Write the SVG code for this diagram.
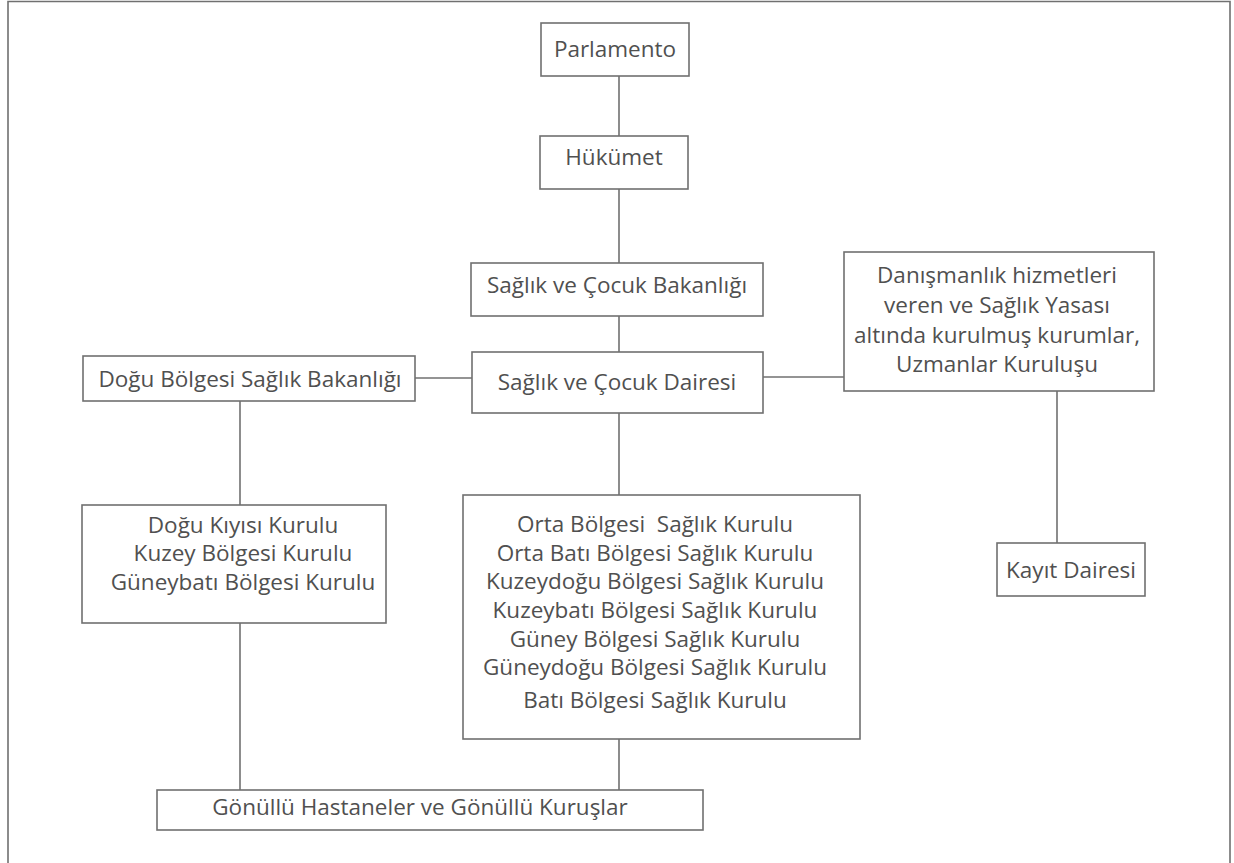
<svg xmlns="http://www.w3.org/2000/svg" width="1234" height="863" viewBox="0 0 1234 863">
<style>
.box{fill:#fff;stroke:#707070;stroke-width:1.6}
.ln{stroke:#707070;stroke-width:1.6;fill:none}
text{font-family:"Open Sans","Noto Sans",sans-serif;font-size:22.5px;fill:#505050;text-anchor:middle}
</style>
<rect x="0" y="0" width="1234" height="863" fill="#fff"/>
<g id="frame"><path class="ln" d="M8,870 V1.5 H1230 V870"/></g>
<g id="connectors">
<line class="ln" x1="619" y1="76" x2="619" y2="136"/>
<line class="ln" x1="619" y1="189" x2="619" y2="263"/>
<line class="ln" x1="619" y1="316" x2="619" y2="352"/>
<line class="ln" x1="415" y1="378" x2="472" y2="378"/>
<line class="ln" x1="763" y1="377" x2="844" y2="377"/>
<line class="ln" x1="240" y1="401" x2="240" y2="505"/>
<line class="ln" x1="240" y1="623" x2="240" y2="790"/>
<line class="ln" x1="619" y1="413" x2="619" y2="495"/>
<line class="ln" x1="619" y1="739" x2="619" y2="790"/>
<line class="ln" x1="1057" y1="391" x2="1057" y2="543"/>
</g>
<g id="parlamento"><rect class="box" x="541" y="23" width="148" height="53"/><text x="615" y="57">Parlamento</text></g>
<g id="hukumet"><rect class="box" x="540" y="136" width="148" height="53"/><text x="614" y="165">Hükümet</text></g>
<g id="bakanlik"><rect class="box" x="471" y="263" width="292" height="53"/><text x="617" y="293">Sağlık ve Çocuk Bakanlığı</text></g>
<g id="daire"><rect class="box" x="472" y="352" width="291" height="61"/><text x="617" y="390">Sağlık ve Çocuk Dairesi</text></g>
<g id="dogu-bakanlik"><rect class="box" x="83" y="356" width="332" height="45"/><text x="250" y="387">Doğu Bölgesi Sağlık Bakanlığı</text></g>
<g id="danismanlik"><rect class="box" x="844" y="252" width="310" height="139"/>
<text x="997" y="283">Danışmanlık hizmetleri</text>
<text x="997" y="313">veren ve Sağlık Yasası</text>
<text x="997" y="343">altında kurulmuş kurumlar,</text>
<text x="997" y="372">Uzmanlar Kuruluşu</text></g>
<g id="dogu-kurullar"><rect class="box" x="82" y="505" width="304" height="118"/>
<text x="243" y="533">Doğu Kıyısı Kurulu</text>
<text x="243" y="561">Kuzey Bölgesi Kurulu</text>
<text x="243" y="590">Güneybatı Bölgesi Kurulu</text></g>
<g id="bolge-kurullar"><rect class="box" x="463" y="495" width="397" height="244"/>
<text x="655" y="532" xml:space="preserve">Orta Bölgesi  Sağlık Kurulu</text>
<text x="655" y="561">Orta Batı Bölgesi Sağlık Kurulu</text>
<text x="655" y="589">Kuzeydoğu Bölgesi Sağlık Kurulu</text>
<text x="655" y="618">Kuzeybatı Bölgesi Sağlık Kurulu</text>
<text x="655" y="647">Güney Bölgesi Sağlık Kurulu</text>
<text x="655" y="675">Güneydoğu Bölgesi Sağlık Kurulu</text>
<text x="655" y="708">Batı Bölgesi Sağlık Kurulu</text></g>
<g id="kayit"><rect class="box" x="997" y="543" width="148" height="53"/><text x="1071" y="578">Kayıt Dairesi</text></g>
<g id="gonullu"><rect class="box" x="157" y="790" width="546" height="40"/><text x="420" y="815">Gönüllü Hastaneler ve Gönüllü Kuruşlar</text></g>
</svg>
